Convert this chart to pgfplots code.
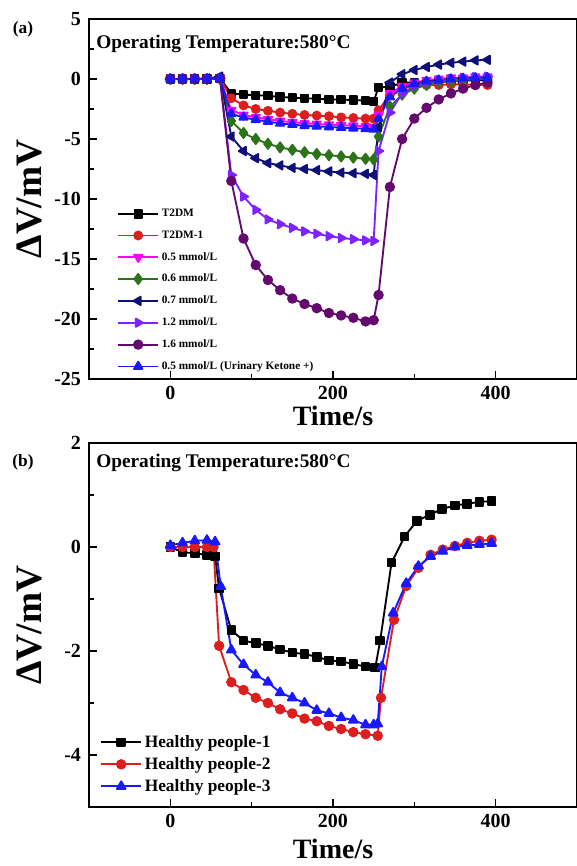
\documentclass[border=0pt]{standalone}
\usepackage{fontspec}
\setmainfont{Liberation Serif}
\usepackage{pgfplots}
\pgfplotsset{compat=1.18}
\definecolor{cred}{RGB}{220,30,30}
\definecolor{cmag}{RGB}{255,0,255}
\definecolor{cgreen}{RGB}{45,115,25}
\definecolor{cnavy}{RGB}{15,15,120}
\definecolor{cviolet}{RGB}{125,35,255}
\definecolor{cpurple}{RGB}{100,10,110}
\definecolor{cblue}{RGB}{25,25,255}
\begin{document}
\begin{tikzpicture}
\pgfplotsset{
  myax/.style={
    scale only axis, width=366pt,
    xmin=-100, xmax=500, xtick={0,200,400}, minor x tick num=1,
    tick align=inside, xtick pos=bottom, ytick pos=left,
    axis line style={line width=1.3pt},
    major tick length=6pt, minor tick length=3.5pt,
    every tick/.style={line width=1.2pt, black},
    ticklabel style={font=\fontsize{15}{18}\selectfont\bfseries},
    /pgf/number format/assume math mode=true,
    xticklabel style={yshift=-1.75pt},
    yticklabel style={xshift=-2.5pt},
    xlabel={Time/s}, ylabel={ΔV/mV},
    xlabel style={font=\fontsize{21}{24}\selectfont\bfseries, at={(axis description cs:0.5,0)}, anchor=center},
    ylabel style={font=\fontsize{28}{32}\selectfont\bfseries, at={(axis description cs:-0.121,0.5)}, anchor=center},
    every axis plot/.append style={line width=1.4pt, line join=round},
    legend cell align=left,
    legend image code/.code={\draw[mark repeat=2,mark phase=2] plot coordinates {(0pt,0pt) (15pt,0pt) (30pt,0pt)};},
  },
}
% ---------------- panel (a)
\begin{axis}[myax, name=A, at={(0,0)}, anchor=north west, height=270pt,
  ymin=-25, ymax=5, ytick={-25,-20,-15,-10,-5,0,5}, minor y tick num=1,
  xlabel style={yshift=-28pt},
  legend style={font=\fontsize{8.5}{10}\selectfont\bfseries, draw=none, fill=none,
    row sep=5pt, inner sep=0pt, at={(axis description cs:0,0)}, anchor=south west,
    xshift=21pt, yshift=3.5pt},
]
\addplot[black, mark=square*, mark size=2.8pt] coordinates {
(0,0)(15,0)(30,0)(45,0)(61,0.05)(75,-1.2)(90,-1.3)(105,-1.35)(120,-1.4)(135,-1.5)(150,-1.55)(165,-1.6)(180,-1.65)(195,-1.7)(210,-1.72)(225,-1.75)(240,-1.8)(250,-1.85)(256,-0.7)(270,-0.65)(285,-0.3)(300,-0.3)(315,-0.25)(330,-0.2)(345,-0.2)(360,-0.15)(375,-0.1)(390,-0.1)};
\addlegendentry{T2DM}
\addplot[cred, mark=*, mark size=3pt] coordinates {
(0,0)(15,0)(30,0)(45,0)(61,0.05)(75,-1.6)(90,-2.2)(105,-2.5)(120,-2.65)(135,-2.8)(150,-2.9)(165,-3.0)(180,-3.05)(195,-3.1)(210,-3.2)(225,-3.25)(240,-3.3)(250,-3.3)(256,-2.6)(270,-1.3)(285,-0.8)(300,-0.6)(315,-0.5)(330,-0.5)(345,-0.45)(360,-0.45)(375,-0.5)(390,-0.5)};
\addlegendentry{T2DM-1}
\addplot[cmag, mark=triangle*, mark size=3.6pt, mark options={rotate=180}] coordinates {
(0,0)(15,0)(30,0)(45,0)(61,0.05)(75,-2.6)(90,-3.0)(105,-3.2)(120,-3.35)(135,-3.5)(150,-3.6)(165,-3.7)(180,-3.75)(195,-3.8)(210,-3.85)(225,-3.9)(240,-3.95)(250,-4.0)(256,-3.0)(270,-1.2)(285,-0.6)(300,-0.3)(315,-0.1)(330,0)(345,0.1)(360,0.1)(375,0.2)(390,0.2)};
\addlegendentry{0.5 mmol/L}
\addplot[cgreen, mark=diamond*, mark size=3.8pt] coordinates {
(0,0)(15,0)(30,0)(45,0)(61,0.05)(75,-3.5)(90,-4.5)(105,-5.0)(120,-5.4)(135,-5.7)(150,-5.9)(165,-6.1)(180,-6.25)(195,-6.35)(210,-6.45)(225,-6.55)(240,-6.65)(250,-6.7)(256,-4.8)(270,-2.3)(285,-1.3)(300,-0.8)(315,-0.5)(330,-0.3)(345,-0.2)(360,-0.1)(375,0)(390,0)};
\addlegendentry{0.6 mmol/L}
\addplot[cnavy, mark=triangle*, mark size=3.6pt, mark options={rotate=90}] coordinates {
(0,0)(15,0)(30,0)(45,0.05)(61,0.2)(75,-4.8)(90,-6.0)(105,-6.6)(120,-7.0)(135,-7.2)(150,-7.4)(165,-7.5)(180,-7.6)(195,-7.7)(210,-7.8)(225,-7.85)(240,-7.9)(250,-8.0)(256,-4.0)(270,-0.3)(285,0.4)(300,0.75)(315,1.0)(330,1.2)(345,1.35)(360,1.45)(375,1.55)(390,1.6)};
\addlegendentry{0.7 mmol/L}
\addplot[cviolet, mark=triangle*, mark size=3.6pt, mark options={rotate=-90}] coordinates {
(0,0)(15,0)(30,0)(45,0)(61,0.05)(75,-8.0)(90,-9.8)(105,-10.9)(120,-11.7)(135,-12.1)(150,-12.4)(165,-12.7)(180,-12.9)(195,-13.1)(210,-13.25)(225,-13.35)(240,-13.45)(250,-13.5)(256,-6.0)(270,-2.8)(285,-1.2)(300,-0.6)(315,-0.3)(330,-0.1)(345,0)(360,0.1)(375,0.15)(390,0.2)};
\addlegendentry{1.2 mmol/L}
\addplot[cpurple, mark=*, mark size=3.2pt] coordinates {
(0,0)(15,0)(30,0)(45,0)(61,0.05)(75,-8.5)(90,-13.3)(105,-15.5)(120,-16.75)(135,-17.6)(150,-18.3)(165,-18.75)(180,-19.1)(195,-19.5)(210,-19.7)(225,-19.9)(240,-20.2)(250,-20.1)(256,-18.0)(270,-9.0)(285,-5.0)(300,-3.3)(315,-2.4)(330,-1.7)(345,-1.2)(360,-0.8)(375,-0.5)(390,-0.3)};
\addlegendentry{1.6 mmol/L}
\addplot[cblue, mark=triangle*, mark size=3.6pt] coordinates {
(0,0)(15,0)(30,0)(45,0)(61,0.05)(75,-2.9)(90,-3.2)(105,-3.4)(120,-3.55)(135,-3.7)(150,-3.8)(165,-3.9)(180,-3.95)(195,-4.0)(210,-4.05)(225,-4.1)(240,-4.15)(250,-4.2)(256,-3.3)(270,-1.5)(285,-0.8)(300,-0.4)(315,-0.2)(330,-0.1)(345,0)(360,0.05)(375,0.1)(390,0.1)};
\addlegendentry{0.5 mmol/L (Urinary Ketone +)}
\end{axis}
\node[anchor=west, inner sep=0pt, font=\fontsize{14.5}{17}\selectfont\bfseries] at ([xshift=5.25pt, yshift=-18.75pt]A.north west) {Operating Temperature:580°C};
\node[inner sep=0pt, font=\fontsize{13}{15}\selectfont\bfseries] at ([xshift=-49.5pt, yshift=-7.5pt]A.north west) {(a)};
% ---------------- panel (b)
\begin{axis}[myax, name=B, at={(0,-318pt)}, anchor=north west, height=273pt,
  ymin=-5, ymax=2, ytick={-4,-2,0,2}, minor y tick num=1,
  xlabel style={yshift=-31.5pt},
  legend style={font=\fontsize{13}{15}\selectfont\bfseries, draw=none, fill=none,
    row sep=2pt, inner sep=0pt, at={(axis description cs:0,0)}, anchor=south west,
    xshift=8.25pt, yshift=8pt},
]
\addplot[black, mark=square*, mark size=2.9pt] coordinates {
(0,0)(15,-0.1)(30,-0.12)(45,-0.15)(55,-0.18)(60,-0.8)(75,-1.6)(90,-1.8)(105,-1.85)(120,-1.9)(135,-1.97)(150,-2.03)(165,-2.06)(180,-2.11)(195,-2.18)(210,-2.2)(225,-2.25)(240,-2.3)(252,-2.32)(258,-1.8)(272,-0.3)(288,0.2)(303,0.5)(319,0.62)(334,0.73)(350,0.8)(365,0.83)(380,0.87)(395,0.88)};
\addlegendentry{Healthy people-1}
\addplot[cred, mark=*, mark size=3.2pt] coordinates {
(0,0)(15,0)(30,0)(45,0)(53,0)(60,-1.9)(75,-2.6)(90,-2.75)(105,-2.9)(120,-3.0)(135,-3.12)(150,-3.2)(165,-3.3)(180,-3.35)(195,-3.44)(210,-3.5)(225,-3.56)(240,-3.6)(255,-3.63)(259,-2.9)(275,-1.4)(290,-0.75)(305,-0.4)(320,-0.15)(335,-0.05)(350,0.02)(365,0.08)(380,0.12)(395,0.14)};
\addlegendentry{Healthy people-2}
\addplot[cblue, mark=triangle*, mark size=3.8pt] coordinates {
(0,0.03)(15,0.08)(30,0.12)(45,0.13)(55,0.1)(62,-0.76)(75,-1.98)(90,-2.26)(105,-2.46)(120,-2.6)(135,-2.8)(150,-2.9)(165,-3.0)(180,-3.14)(195,-3.2)(210,-3.28)(225,-3.33)(240,-3.42)(250,-3.42)(255,-3.4)(260,-2.3)(274,-1.27)(290,-0.7)(305,-0.37)(320,-0.18)(335,-0.08)(350,0)(365,0.03)(380,0.05)(395,0.07)};
\addlegendentry{Healthy people-3}
\end{axis}
\node[anchor=west, inner sep=0pt, font=\fontsize{14.5}{17}\selectfont\bfseries] at ([xshift=5.25pt, yshift=-15pt]B.north west) {Operating Temperature:580°C};
\node[inner sep=0pt, font=\fontsize{13}{15}\selectfont\bfseries] at ([xshift=-49.5pt, yshift=-14.25pt]B.north west) {(b)};
\pgfresetboundingbox
\path[use as bounding box] (-66.75pt,14.25pt) rectangle (366pt,-635.25pt);
\end{tikzpicture}
\end{document}
